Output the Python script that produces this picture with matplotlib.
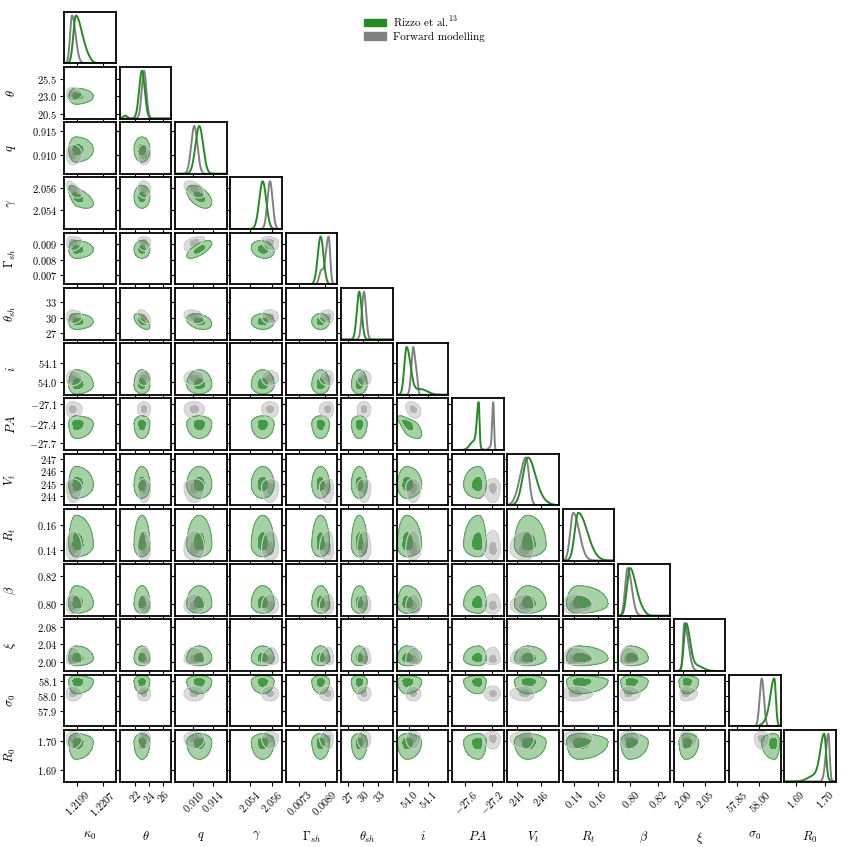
import numpy as np
import matplotlib.pyplot as plt
from matplotlib.patches import Patch

plt.rcParams['font.family'] = 'serif'
plt.rcParams['font.serif'] = ['cmr10', 'DejaVu Serif']
plt.rcParams['mathtext.fontset'] = 'cm'
plt.rcParams['axes.unicode_minus'] = False

names = [r'$\kappa_0$', r'$\theta$', r'$q$', r'$\gamma$', r'$\Gamma_{sh}$', r'$\theta_{sh}$', r'$i$',
         r'$PA$', r'$V_t$', r'$R_t$', r'$\beta$', r'$\xi$', r'$\sigma_0$', r'$R_0$']

lims = [(1.2195, 1.2211), (19.8, 27.2), (0.9063, 0.9167), (2.0523, 2.0569), (0.00645, 0.00968),
        (25.7, 35.8), (53.935, 54.205), (-27.80, -27.02), (243.25, 247.45), (0.131, 0.1732),
        (0.791, 0.829), (1.978, 2.098), (57.80, 58.14), (1.6862, 1.7038)]

xtick_labels = [['1.2199', '1.2207'], ['22', '24', '26'], ['0.910', '0.914'], ['2.054', '2.056'],
                ['0.0073', '0.0089'], ['27', '30', '33'], ['54.0', '54.1'], ['-27.6', '-27.2'],
                ['244', '246'], ['0.14', '0.16'], ['0.80', '0.82'], ['2.00', '2.05'],
                ['57.85', '58.00'], ['1.69', '1.70']]
ytick_labels = [[], ['25.5', '23.0', '20.5'], ['0.915', '0.910'], ['2.056', '2.054'],
                ['0.009', '0.008', '0.007'], ['33', '30', '27'], ['54.1', '54.0'],
                ['-27.1', '-27.4', '-27.7'], ['247', '246', '245', '244'], ['0.16', '0.14'],
                ['0.82', '0.80'], ['2.08', '2.04', '2.00'], ['58.1', '58.0', '57.9'], ['1.70', '1.69']]

# Rizzo et al. posteriors: peak, lower and upper width
green_peak = [1.21986, 23.0, 0.91119, 2.05518, 0.00863, 29.23, 53.987, -27.397, 244.9, 0.1436,
              0.7996, 2.0067, 58.099, 1.6998]
green_lo = [7.8e-5, 0.40, 7.7e-4, 3.1e-4, 1.8e-4, 0.47, 0.012, 0.026, 0.41, 0.0029,
            0.0022, 0.005, 0.024, 0.0013]
green_hi = [1.9e-4, 0.40, 7.7e-4, 3.1e-4, 1.8e-4, 0.47, 0.020, 0.013, 0.57, 0.0074,
            0.0044, 0.009, 0.010, 0.0006]
# forward modelling posteriors
grey_peak = [1.21974, 23.3, 0.91018, 2.05583, 0.00913, 30.15, 54.022, -27.176, 244.76, 0.1395,
             0.7979, 2.0027, 58.016, 1.7012]
grey_lo = [6e-5, 0.33, 6.3e-4, 2.3e-4, 1.9e-4, 0.41, 0.010, 0.016, 0.49, 0.0025,
           0.0018, 0.003, 0.014, 0.00085]
grey_hi = [1.1e-4, 0.33, 6.3e-4, 2.3e-4, 1.0e-4, 0.41, 0.010, 0.012, 0.25, 0.0049,
           0.0030, 0.0093, 0.014, 0.00045]

# secondary bumps / tails seen on the diagonal: param -> (position, width, height)
green_extra = {0: (1.2202, 1.2e-4, 0.08), 1: (20.6, 0.3, 0.06), 6: (54.06, 0.035, 0.12),
               7: (-27.47, 0.06, 0.2), 8: (245.8, 0.6, 0.12), 10: (0.808, 0.003, 0.08),
               11: (2.03, 0.015, 0.12), 12: (58.06, 0.03, 0.15), 13: (1.697, 0.0025, 0.15)}
grey_extra = {4: (0.00865, 1.2e-4, 0.25), 6: (54.04, 0.006, 0.3), 7: (-27.22, 0.03, 0.06)}

# size of the 2D contours relative to the 1D widths
blob_scale = [1.3, 1.3, 1.5, 1.5, 1.4, 1.5, 1.8, 4.0, 1.2, 1.5, 1.4, 1.5, 1.6, 2.1]

# correlated pairs: (row, col) -> (rho green, rho grey)
rho = {(3, 0): (-0.6, -0.6), (5, 1): (-0.6, -0.5), (3, 2): (-0.5, -0.5), (4, 2): (0.7, 0.6),
       (5, 2): (-0.3, -0.3), (7, 6): (-0.7, -0.3), (4, 3): (-0.2, -0.2)}

GREEN = 'forestgreen'
GREY = 'grey'
n = len(names)


def split(x, mu, lo, hi):
    s = np.where(x < mu, lo, hi)
    return np.exp(-0.5 * ((x - mu) / s) ** 2)


def diag_curve(ax, k, peak, lo, hi, extra, colour):
    x = np.linspace(lims[k][0], lims[k][1], 400)
    y = split(x, peak[k], lo[k], hi[k])
    if k in extra:
        m, s, w = extra[k]
        y = y + w * np.exp(-0.5 * ((x - m) / s) ** 2)
    ax.plot(x, y / y.max(), color=colour, lw=1.4)


def blob(ax, r, c, peak, lo, hi, p, colour, a_out, a_in, edge, a_edge):
    x = np.linspace(lims[c][0], lims[c][1], 160)
    y = np.linspace(lims[r][0], lims[r][1], 160)
    X, Y = np.meshgrid(x, y)
    sx = np.where(X < peak[c], lo[c], hi[c]) * blob_scale[c]
    sy = np.where(Y < peak[r], lo[r], hi[r]) * blob_scale[r]
    u = (X - peak[c]) / sx
    v = (Y - peak[r]) / sy
    Q = (u * u - 2 * p * u * v + v * v) / (1 - p * p)
    ax.contourf(X, Y, Q, levels=[-1, 4.84], colors=[colour], alpha=a_out)
    ax.contourf(X, Y, Q, levels=[-1, 0.81], colors=[colour], alpha=a_in)
    ax.contour(X, Y, Q, levels=[4.84], colors=[edge], linewidths=0.8, alpha=a_edge)


fig = plt.figure(figsize=(8.48, 8.47), dpi=100)
axes = fig.subplots(n, n)
fig.subplots_adjust(left=0.0758, right=0.9858, bottom=0.0773, top=0.9862, wspace=0.076, hspace=0.071)

for r in range(n):
    for c in range(n):
        ax = axes[r, c]
        if c > r:
            ax.set_visible(False)
            continue
        for s in ax.spines.values():
            s.set_linewidth(1.3)
        ax.set_xlim(lims[c])
        ax.set_xticks([float(t) for t in xtick_labels[c]])
        ax.tick_params(direction='out', length=3, width=0.8, labelsize=7.5, pad=2)
        if r == n - 1:
            ax.set_xticklabels(['$%s$' % t for t in xtick_labels[c]], rotation=45, ha='center')
            ax.set_xlabel(names[c], fontsize=9)
            ax.xaxis.set_label_coords(0.5, -0.94)
        else:
            ax.set_xticklabels([])
        if r == c:
            diag_curve(ax, c, grey_peak, grey_lo, grey_hi, grey_extra, GREY)
            diag_curve(ax, c, green_peak, green_lo, green_hi, green_extra, GREEN)
            ax.set_ylim(0, 1.08)
            ax.set_yticks([])
            continue
        p_green, p_grey = rho.get((r, c), (0.0, 0.0))
        blob(ax, r, c, green_peak, green_lo, green_hi, p_green, GREEN, 0.4, 0.75, GREEN, 0.6)
        blob(ax, r, c, grey_peak, grey_lo, grey_hi, p_grey, GREY, 0.28, 0.45, '#d0d0d0', 1.0)
        ax.set_ylim(lims[r])
        ax.set_yticks([float(t) for t in ytick_labels[r]])
        ax.tick_params(axis='y', right=True)
        if c == 0:
            ax.set_yticklabels(['$%s$' % t for t in ytick_labels[r]])
            ax.set_ylabel(names[r], fontsize=9)
            ax.yaxis.set_label_coords(-0.9, 0.5)
        else:
            ax.set_yticklabels([])

fig.legend(handles=[Patch(color=GREEN, label='Rizzo et al.$^{13}$'),
                    Patch(color=GREY, label='Forward modelling')],
           loc='upper left', bbox_to_anchor=(0.418, 0.995), frameon=False, fontsize=8,
           handlelength=1.9, handleheight=0.7, handletextpad=0.7, labelspacing=0.3)

fig.savefig('out.png', dpi=100)
